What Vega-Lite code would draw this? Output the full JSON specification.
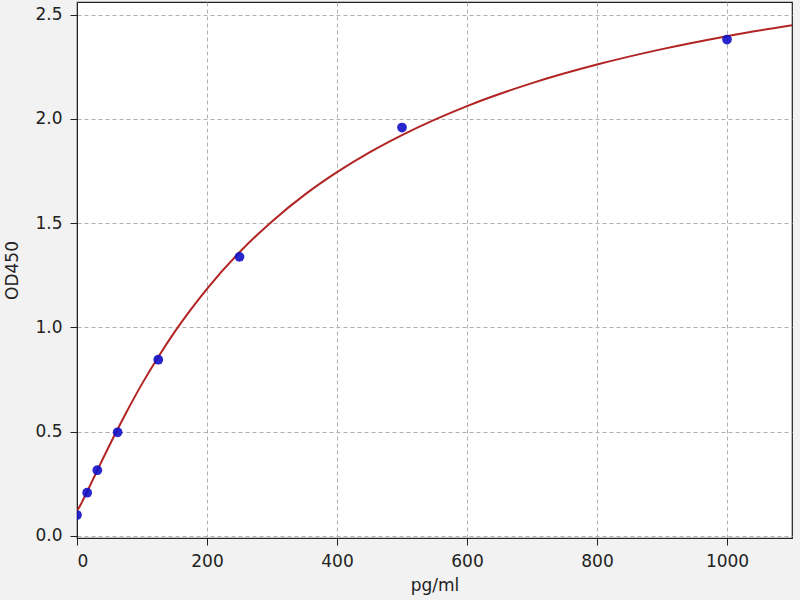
{
  "$schema": "https://vega.github.io/schema/vega-lite/v6.json",
  "width": 715,
  "height": 536,
  "autosize": "none",
  "padding": {"left": 77, "top": 2, "right": 8, "bottom": 62},
  "background": "#f2f2f2",
  "config": {
    "view": {"fill": "white", "stroke": "#222222", "strokeWidth": 1.2},
    "font": "DejaVu Sans",
    "axis": {
      "domainColor": "#222222",
      "tickColor": "#222222",
      "tickSize": 7,
      "labelPadding": 8,
      "labelFontSize": 17,
      "labelColor": "#222222",
      "titleFontSize": 17,
      "titleFontWeight": "normal",
      "titleColor": "#222222",
      "gridColor": "#b0b0b0",
      "gridDash": [4, 3],
      "gridWidth": 1
    }
  },
  "datasets": {
    "curve": [
      {"conc": 0, "od": 0.12},
      {"conc": 5, "od": 0.146},
      {"conc": 10, "od": 0.177},
      {"conc": 20, "od": 0.241},
      {"conc": 30, "od": 0.306},
      {"conc": 40, "od": 0.371},
      {"conc": 50, "od": 0.435},
      {"conc": 60, "od": 0.497},
      {"conc": 75, "od": 0.587},
      {"conc": 100, "od": 0.729},
      {"conc": 125, "od": 0.858},
      {"conc": 150, "od": 0.977},
      {"conc": 175, "od": 1.085},
      {"conc": 200, "od": 1.185},
      {"conc": 250, "od": 1.36},
      {"conc": 300, "od": 1.508},
      {"conc": 350, "od": 1.635},
      {"conc": 400, "od": 1.744},
      {"conc": 450, "od": 1.839},
      {"conc": 500, "od": 1.922},
      {"conc": 600, "od": 2.061},
      {"conc": 700, "od": 2.171},
      {"conc": 800, "od": 2.26},
      {"conc": 900, "od": 2.334},
      {"conc": 1000, "od": 2.396},
      {"conc": 1100, "od": 2.449}
    ],
    "standards": [
      {"conc": 0, "od": 0.1},
      {"conc": 15.625, "od": 0.207},
      {"conc": 31.25, "od": 0.315},
      {"conc": 62.5, "od": 0.497},
      {"conc": 125, "od": 0.845},
      {"conc": 250, "od": 1.338},
      {"conc": 500, "od": 1.958},
      {"conc": 1000, "od": 2.38}
    ]
  },
  "layer": [
    {
      "data": {"name": "curve"},
      "mark": {"type": "line", "color": "#b22424", "strokeWidth": 2, "interpolate": "monotone", "clip": true},
      "encoding": {
        "x": {
          "field": "conc", "type": "quantitative",
          "scale": {"domain": [0, 1100], "nice": false, "zero": false},
          "axis": {"title": "pg/ml", "values": [0, 200, 400, 600, 800, 1000], "format": "d", "grid": true, "titlePadding": 8}
        },
        "y": {
          "field": "od", "type": "quantitative",
          "scale": {"domain": [-0.01, 2.56], "nice": false, "zero": false},
          "axis": {"title": "OD450", "values": [0, 0.5, 1, 1.5, 2, 2.5], "format": ".1f", "grid": true, "titlePadding": 13}
        }
      }
    },
    {
      "data": {"name": "standards"},
      "mark": {"type": "circle", "color": "#1010c8", "size": 95, "opacity": 0.9, "clip": true},
      "encoding": {
        "x": {"field": "conc", "type": "quantitative"},
        "y": {"field": "od", "type": "quantitative"}
      }
    }
  ]
}
